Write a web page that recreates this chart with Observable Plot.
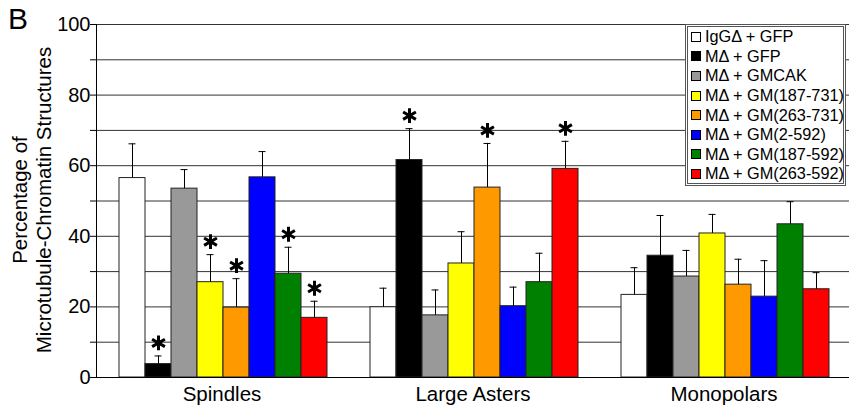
<!DOCTYPE html>
<html><head><meta charset="utf-8">
<script src="https://cdn.jsdelivr.net/npm/d3@7"></script>
<script src="https://cdn.jsdelivr.net/npm/@observablehq/plot@0.6"></script>
<style>
body{margin:0;background:#fff;font-family:"Liberation Sans",Arial,sans-serif;}
#wrap{position:relative;width:852px;height:406px;overflow:hidden;}
#panel{position:absolute;left:8px;top:3px;font-size:30px;line-height:32px;color:#000;}
#legend{position:absolute;left:685px;top:24px;width:155px;height:156px;border:3px double #555;background:#fff;box-sizing:content-box;}
#legend .row{display:flex;align-items:center;height:19.6px;font-size:16.3px;color:#000;white-space:nowrap;}
#legend .sw{width:8px;height:8px;border:1px solid #000;margin-left:3px;margin-right:4px;flex:none;}
</style></head><body><div id="wrap"></div>
<script>
const groups = ["Spindles", "Large Asters", "Monopolars"];
const series = ["IgGΔ + GFP", "MΔ + GFP", "MΔ + GMCAK", "MΔ + GM(187-731)", "MΔ + GM(263-731)", "MΔ + GM(2-592)", "MΔ + GM(187-592)", "MΔ + GM(263-592)"];
const colors = ["#ffffff", "#000000", "#999999", "#ffff00", "#ff9900", "#0000ff", "#008000", "#ff0000"];
const spindles = [56.5, 3.8, 53.5, 27.0, 19.8, 56.7, 29.4, 16.9];
const spindlesErr = [9.7, 2.3, 5.4, 7.8, 8.2, 7.3, 7.5, 4.7];
const spindlesStar = [0, 1, 0, 1, 1, 0, 1, 1];
const largeAsters = [19.9, 61.6, 17.6, 32.3, 53.8, 20.2, 27.0, 59.1];
const largeAstersErr = [5.4, 8.9, 7.2, 9.0, 12.5, 5.4, 8.2, 7.8];
const largeAstersStar = [0, 1, 0, 0, 1, 0, 0, 1];
const monopolars = [23.4, 34.5, 28.6, 40.8, 26.3, 22.9, 43.4, 25.0];
const monopolarsErr = [7.7, 11.4, 7.4, 5.4, 7.2, 10.2, 6.4, 4.7];
const monopolarsStar = [0, 0, 0, 0, 0, 0, 0, 0];
const yTicks = [0, 10, 20, 30, 40, 50, 60, 70, 80, 90, 100];
const yTitle = ["Percentage of", "Microtubule-Chromatin Structures"];
const panelLabel = "B";

const values = [spindles, largeAsters, monopolars];
const errs = [spindlesErr, largeAstersErr, monopolarsErr];
const stars = [spindlesStar, largeAstersStar, monopolarsStar];
const rows = [];
groups.forEach((g, gi) => series.forEach((s, si) => rows.push({
  group: g, series: s, value: values[gi][si], top: values[gi][si] + errs[gi][si], star: stars[gi][si]
})));

const font = "Liberation Sans, Arial, sans-serif";
const plot = Plot.plot({
  width: 852, height: 406,
  marginLeft: 96, marginRight: 3, marginTop: 24, marginBottom: 29,
  style: {fontFamily: font, fontSize: "20px", background: "transparent", color: "#000"},
  fx: {domain: groups, padding: 0, label: null},
  x: {domain: series, paddingInner: 0, paddingOuter: 0.8, align: 0.54, axis: null},
  y: {domain: [0, 100], label: null},
  color: {type: "ordinal", domain: series, range: colors},
  marks: [
    Plot.gridY(yTicks, {stroke: "#333", strokeOpacity: 1}),
    Plot.barY(rows, {fx: "group", x: "series", y: "value", fill: "series", stroke: "#222", strokeWidth: 1}),
    Plot.ruleX(rows, {fx: "group", x: "series", y1: "value", y2: "top", stroke: "#000"}),
    Plot.tickY(rows, {fx: "group", x: "series", y: "top", stroke: "#000", insetLeft: 9.5, insetRight: 9.5}),
    Plot.dot(rows.filter(d => d.star), {fx: "group", x: "series", y: "top", symbol: "asterisk", r: 7, stroke: "#000", strokeWidth: 3, dy: -13}),
    Plot.ruleY([0], {stroke: "#000"}),
    Plot.frame({anchor: "left", facetAnchor: "left", stroke: "#000"}),
    Plot.axisY(yTicks, {tickSize: 6, tickPadding: 0, tickFormat: d => d % 20 === 0 ? d : "", label: null, fontSize: 20}),
    Plot.axisFx({anchor: "bottom", tickSize: 0, tickPadding: 9, label: null, fontSize: 20.5})
  ]
});
const wrap = document.getElementById("wrap");
wrap.appendChild(plot);
const svg = d3.select(plot.tagName.toLowerCase() === "svg" ? plot : plot.querySelector("svg"));
svg.append("text").attr("transform", "translate(27,200) rotate(-90)").attr("text-anchor", "middle")
  .attr("font-family", font).attr("font-size", 20.5).text(yTitle[0]);
svg.append("text").attr("transform", "translate(51,200) rotate(-90)").attr("text-anchor", "middle")
  .attr("font-family", font).attr("font-size", 20.5).text(yTitle[1]);

const panel = document.createElement("div");
panel.id = "panel";
panel.textContent = panelLabel;
wrap.appendChild(panel);

const legend = document.createElement("div");
legend.id = "legend";
series.forEach((s, i) => {
  const r = document.createElement("div");
  r.className = "row";
  const sw = document.createElement("span");
  sw.className = "sw";
  sw.style.background = colors[i];
  r.appendChild(sw);
  r.appendChild(document.createTextNode(s));
  legend.appendChild(r);
});
wrap.appendChild(legend);
</script></body></html>
